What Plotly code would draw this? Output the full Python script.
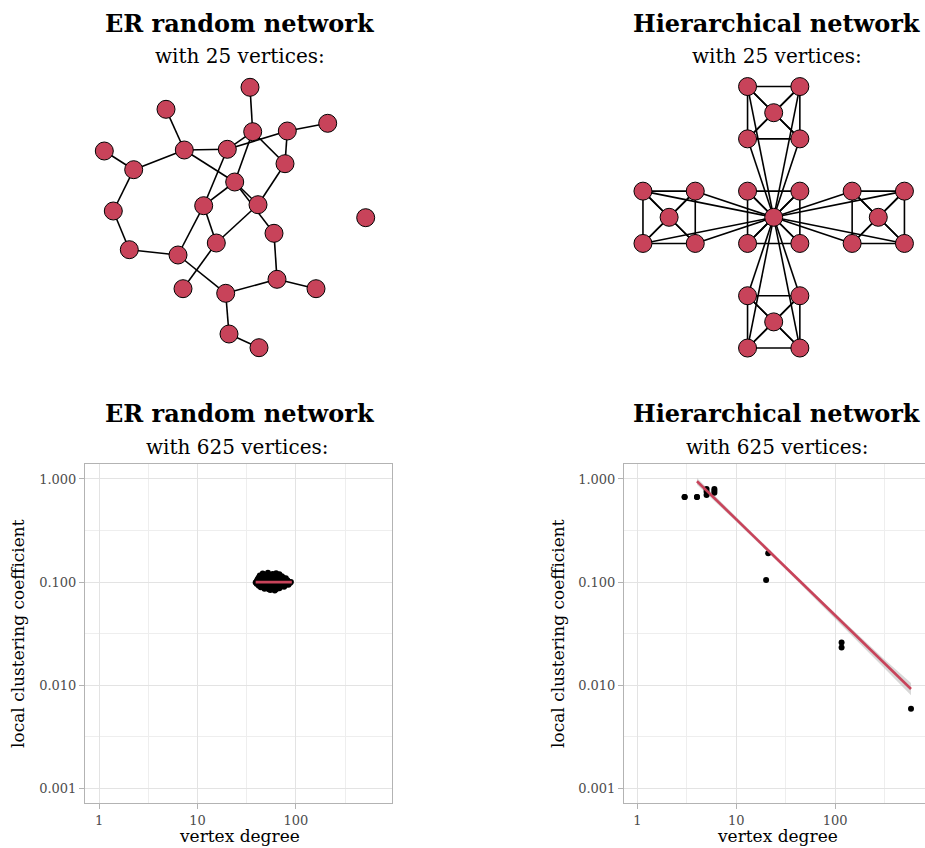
import plotly.graph_objects as go

W, H = 925, 848
RED = "#C8435A"
FONT = "DejaVu Serif"
GRID = "#E3E3E3"
GRID_MINOR = "#EEEEEE"
FRAME = "#B3B3B3"

# ---------------- ER random network (25 vertices), layout coordinates ----------------
er_node_x = [160, 76, 237.7, 162.7, 197.3, 14.3, 94.3, 137.3, 43.7, 195, 144.7, 23.3, 113.7,
             168, 275.7, 184, 126.3, 39.3, 88, 187, 93, 226, 135.7, 139, 169]
er_node_y = [277.7, 255.7, 241.7, 233.3, 234, 214, 215, 215.7, 195.3, 201.3, 183, 154, 159.3,
             160.3, 147.3, 131.7, 122, 115.3, 110, 85.7, 76.3, 76.3, 71.7, 31, 17.3]
er_edges = [(1, 4), (2, 7), (3, 5), (6, 9), (7, 9), (7, 8), (8, 4), (8, 5), (4, 10), (5, 10),
            (4, 11), (7, 11), (11, 14), (11, 16), (8, 13), (9, 12), (12, 18), (18, 19), (19, 13),
            (13, 17), (13, 11), (10, 14), (14, 17), (17, 21), (19, 23), (16, 20), (20, 23),
            (20, 22), (23, 24), (24, 25)]

# ---------------- Hierarchical network (25 vertices) ----------------
# module order: centre, top, left, right, bottom
hn_module_dx = [0, 0, -4, 4, 0]
hn_module_dy = [0, 4, 0, 0, -4]
# node order inside a module: hub, top-left, top-right, bottom-left, bottom-right
hn_local_dx = [0, -1, 1, -1, 1]
hn_local_dy = [0, 1, 1, -1, -1]

# ---------------- ER random network (625 vertices) ----------------
er_degree = [46, 52, 58, 63, 68,
             43, 48, 54, 60, 66, 72,
             42, 47, 51, 56, 62, 67, 74, 79,
             41, 45, 50, 55, 59, 64, 70, 76, 82,
             40, 44, 49, 53, 58, 63, 68, 73, 79, 85,
             39, 43, 47, 52, 57, 61, 66, 71, 77, 83, 89,
             40, 45, 49, 54, 59, 64, 69, 75, 81, 87,
             42, 47, 52, 56, 61, 67, 72, 78, 84,
             44, 50, 55, 60, 65, 70, 76,
             48, 53, 58, 63, 68,
             55, 61]
er_cc = [0.121, 0.123, 0.120, 0.122, 0.119,
         0.116, 0.118, 0.117, 0.115, 0.117, 0.114,
         0.111, 0.112, 0.113, 0.111, 0.112, 0.110, 0.111, 0.109,
         0.107, 0.108, 0.106, 0.108, 0.107, 0.106, 0.108, 0.105, 0.104,
         0.103, 0.104, 0.102, 0.104, 0.103, 0.102, 0.104, 0.103, 0.102, 0.101,
         0.099, 0.100, 0.099, 0.101, 0.100, 0.099, 0.100, 0.101, 0.100, 0.099, 0.100,
         0.096, 0.095, 0.097, 0.096, 0.095, 0.097, 0.096, 0.096, 0.097, 0.098,
         0.092, 0.091, 0.093, 0.092, 0.091, 0.093, 0.092, 0.093, 0.094,
         0.089, 0.088, 0.089, 0.088, 0.089, 0.090, 0.090,
         0.086, 0.085, 0.086, 0.085, 0.087,
         0.084, 0.083]
er_fit_degree = [39, 91]
er_fit_cc = [0.100, 0.100]

# ---------------- Hierarchical network (625 vertices) ----------------
hn_degree = [3, 3, 4, 4, 5, 5, 5, 6, 6, 6, 20, 21, 116, 116, 584]
hn_cc = [0.667, 0.667, 0.667, 0.667, 0.8, 0.7, 0.75, 0.8, 0.733, 0.767, 0.105, 0.19, 0.026, 0.0232, 0.0059]
hn_fit_degree = [4, 584]
hn_fit_cc = [0.95, 0.0092]
hn_band_degree = [4, 10, 30, 100, 300, 584]
hn_band_lo = [0.88, 0.385, 0.139, 0.0443, 0.0153, 0.0080]
hn_band_hi = [1.02, 0.424, 0.151, 0.0498, 0.0186, 0.0105]

# tick definitions
x_tickvals = [1, 10, 100]
x_ticktext = ["1", "10", "100"]
x_minor = [3.162, 31.62, 316.2]
y_tickvals = [1, 0.1, 0.01, 0.001]
y_ticktext = ["1.000", "0.100", "0.010", "0.001"]
y_minor = [0.3162, 0.03162, 0.003162]


def px_x(p):
    return p / W


def px_y(p):
    return 1 - p / H


fig = go.Figure()

# ---- ER small network ----
ex, ey = [], []
for a, b in er_edges:
    ex += [er_node_x[a - 1], er_node_x[b - 1], None]
    ey += [er_node_y[a - 1], er_node_y[b - 1], None]
fig.add_trace(go.Scatter(x=ex, y=ey, mode="lines", line=dict(color="black", width=1.6),
                         xaxis="x3", yaxis="y3", hoverinfo="skip"))
fig.add_trace(go.Scatter(x=er_node_x, y=er_node_y, mode="markers",
                         marker=dict(size=18, color=RED, line=dict(color="black", width=1)),
                         xaxis="x3", yaxis="y3"))

# ---- Hierarchical small network ----
hx, hy = [], []
for m in range(5):
    for k in range(5):
        hx.append(hn_module_dx[m] + hn_local_dx[k])
        hy.append(hn_module_dy[m] + hn_local_dy[k])
hedges = []
for m in range(5):
    for i in range(5):
        for j in range(i + 1, 5):
            hedges.append((m * 5 + i, m * 5 + j))
for m in range(1, 5):
    for k in range(1, 5):
        hedges.append((0, m * 5 + k))
lx, ly = [], []
for a, b in hedges:
    lx += [hx[a], hx[b], None]
    ly += [hy[a], hy[b], None]
fig.add_trace(go.Scatter(x=lx, y=ly, mode="lines", line=dict(color="black", width=1.6),
                         xaxis="x4", yaxis="y4", hoverinfo="skip"))
fig.add_trace(go.Scatter(x=hx, y=hy, mode="markers",
                         marker=dict(size=18, color=RED, line=dict(color="black", width=1)),
                         xaxis="x4", yaxis="y4"))

# ---- ER 625 scatter ----
fig.add_trace(go.Scatter(x=er_degree, y=er_cc, mode="markers",
                         marker=dict(size=6, color="black"), xaxis="x", yaxis="y"))
fig.add_trace(go.Scatter(x=er_fit_degree, y=er_fit_cc, mode="lines",
                         line=dict(color=RED, width=2.6), xaxis="x", yaxis="y"))

# ---- Hierarchical 625 scatter ----
fig.add_trace(go.Scatter(x=hn_band_degree, y=hn_band_hi, mode="lines", line=dict(width=0),
                         xaxis="x2", yaxis="y2", hoverinfo="skip"))
fig.add_trace(go.Scatter(x=hn_band_degree, y=hn_band_lo, mode="lines", line=dict(width=0),
                         fill="tonexty", fillcolor="rgba(190,190,190,0.6)",
                         xaxis="x2", yaxis="y2", hoverinfo="skip"))
fig.add_trace(go.Scatter(x=hn_degree, y=hn_cc, mode="markers",
                         marker=dict(size=6, color="black"), xaxis="x2", yaxis="y2"))
fig.add_trace(go.Scatter(x=hn_fit_degree, y=hn_fit_cc, mode="lines",
                         line=dict(color=RED, width=2.6), xaxis="x2", yaxis="y2"))

tickfont = dict(family=FONT, size=13, color="#4D4D4D")


def xax(domain, rng, anchor):
    return dict(type="log", domain=domain, range=rng, anchor=anchor,
                tickvals=x_tickvals, ticktext=x_ticktext, tickfont=tickfont,
                showgrid=True, gridcolor=GRID, gridwidth=1,
                minor=dict(tickvals=x_minor, showgrid=True, gridcolor=GRID_MINOR, gridwidth=1, ticks=""),
                showline=True, linecolor=FRAME, linewidth=1, mirror=True,
                ticks="outside", ticklen=5, tickcolor=FRAME, tickwidth=1, zeroline=False)


def yax(domain, rng, anchor, mirror):
    return dict(type="log", domain=domain, range=rng, anchor=anchor,
                tickvals=y_tickvals, ticktext=y_ticktext, tickfont=tickfont,
                showgrid=True, gridcolor=GRID, gridwidth=1,
                minor=dict(tickvals=y_minor, showgrid=True, gridcolor=GRID_MINOR, gridwidth=1, ticks=""),
                showline=True, linecolor=FRAME, linewidth=1, mirror=mirror,
                ticks="outside", ticklen=5, tickcolor=FRAME, tickwidth=1, zeroline=False)


hidden = dict(visible=False, showgrid=False, zeroline=False, fixedrange=True)

fig.update_layout(
    width=W, height=H, margin=dict(l=0, r=0, t=0, b=0),
    paper_bgcolor="white", plot_bgcolor="white", showlegend=False,
    font=dict(family=FONT, color="black"),
    xaxis=xax([px_x(85), px_x(392)], [-0.145, 2.978], "y"),
    yaxis=yax([px_y(803), px_y(464)], [-3.142, 0.145], "x", True),
    xaxis2=xax([px_x(624), 1.0], [-0.136, 2.908], "y2"),
    yaxis2=yax([px_y(803), px_y(464)], [-3.142, 0.145], "x2", False),
    xaxis3=dict(hidden, domain=[px_x(90), px_x(380)], range=[0, 290], anchor="y3"),
    yaxis3=dict(hidden, domain=[px_y(365), px_y(75)], range=[0, 290], anchor="x3"),
    xaxis4=dict(hidden, domain=[px_x(632.5), px_x(914.9)], range=[-5.4, 5.4], anchor="y4"),
    yaxis4=dict(hidden, domain=[px_y(358.5), px_y(76.1)], range=[-5.4, 5.4], anchor="x4"),
)

ann = []


def add_text(text, x, y, size, angle=0):
    ann.append(dict(text=text, x=px_x(x), y=px_y(y), xref="paper", yref="paper",
                    xanchor="center", yanchor="middle", showarrow=False, textangle=angle,
                    font=dict(family=FONT, size=size, color="black")))


add_text("<b>ER random network</b>", 240, 23, 24)
add_text("with 25 vertices:", 240, 56, 20)
add_text("<b>Hierarchical network</b>", 777, 23, 24)
add_text("with 25 vertices:", 777, 56, 20)
add_text("<b>ER random network</b>", 240, 413, 24)
add_text("with 625 vertices:", 238, 447, 20)
add_text("<b>Hierarchical network</b>", 777, 413, 24)
add_text("with 625 vertices:", 777, 447, 20)
add_text("vertex degree", 239, 836, 17)
add_text("vertex degree", 777, 836, 17)
add_text("local clustering coefficient", 18, 634, 17, -90)
add_text("local clustering coefficient", 558, 634, 17, -90)
fig.update_layout(annotations=ann)

fig.write_html("out.html", config={"displayModeBar": False},
               post_script="document.body.style.margin='0';document.body.style.overflow='hidden';")
